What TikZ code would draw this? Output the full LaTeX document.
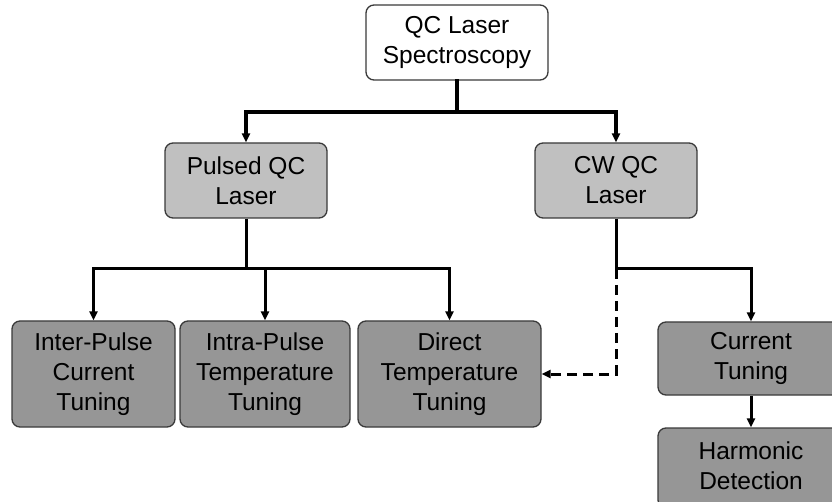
\documentclass[tikz,border=0pt]{standalone}
\usepackage{fontspec}
\setmainfont{Liberation Sans}
\usetikzlibrary{arrows.meta}
\definecolor{lightbox}{HTML}{C0C0C0}
\definecolor{darkbox}{HTML}{969696}
\definecolor{edge}{HTML}{3A3A3A}
\tikzset{
  box/.style={draw=edge, line width=1.3pt, rounded corners=8pt, align=center,
    font=\fontsize{24.5}{30}\selectfont, inner sep=0pt},
  topbox/.style={box, fill=white},
  midbox/.style={box, fill=lightbox},
  lowbox/.style={box, fill=darkbox},
  conn/.style={line width=3.6pt, line cap=rect},
  connthin/.style={line width=3pt},
  tip/.style={-{Triangle[length=9pt,width=8pt]}},
}
\begin{document}
\begin{tikzpicture}[x=1pt,y=-1pt]
\useasboundingbox (0,0) rectangle (832,502);
\clip (0,0) rectangle (832,502);
\node[topbox, minimum width=182pt, minimum height=75pt] (top) at (457,42.5) {QC Laser\\Spectroscopy};
\node[midbox, minimum width=162pt, minimum height=75pt] (pulsed) at (246,180.5) {Pulsed QC\\Laser};
\node[midbox, minimum width=162pt, minimum height=75pt] (cw) at (616,180.5) {CW QC\\Laser};
\node[lowbox, minimum width=163pt, minimum height=106pt] (b1) at (93.5,374) {Inter-Pulse\\Current\\Tuning};
\node[lowbox, minimum width=170pt, minimum height=106pt] (b2) at (265,374) {Intra-Pulse\\Temperature\\Tuning};
\node[lowbox, minimum width=183pt, minimum height=106pt] (b3) at (449.5,374) {Direct\\Temperature\\Tuning};
\node[lowbox, minimum width=186pt, minimum height=73pt] (ct) at (751,358.5) {Current\\Tuning};
\node[lowbox, minimum width=186pt, minimum height=80pt] (hd) at (751,468) {};
\node[align=center, font=\fontsize{24.5}{30}\selectfont, inner sep=0pt] (hdt) at (751,466) {Harmonic\\Detection};
\coordinate (j1) at (457,112);
\coordinate (j2) at (246,269);
\coordinate (j3) at (616,269);
\draw[conn] (top.south) -- (j1);
\draw[conn, tip] (j1) -| (pulsed.north);
\draw[conn, tip] (j1) -| (cw.north);
\draw[connthin] (pulsed.south) -- (j2);
\draw[connthin, tip] (j2) -| (b1.north);
\draw[connthin, tip] (j2) -| (b2.north);
\draw[connthin, tip] (j2) -| (b3.north);
\draw[connthin] (cw.south) -- (j3);
\draw[connthin, tip] (j3) -| (ct.north);
\draw[connthin, tip, dash pattern=on 10pt off 6pt] (j3) |- (b3.east);
\draw[connthin, tip] (ct.south) -- (hd.north);
\end{tikzpicture}
\end{document}
